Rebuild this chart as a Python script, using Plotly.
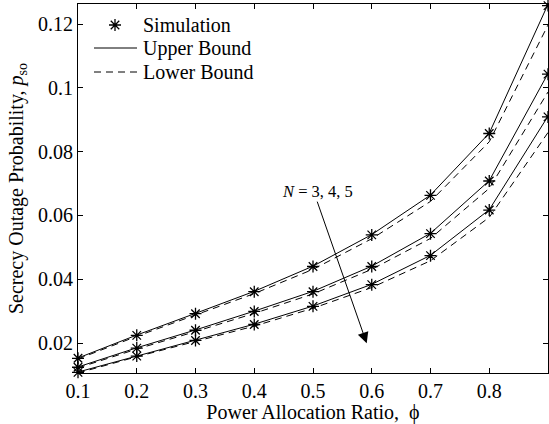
import plotly.graph_objects as go

phi = [0.1, 0.2, 0.3, 0.4, 0.5, 0.6, 0.7, 0.8, 0.9]

sim_N3 = [0.0152, 0.0224, 0.0292, 0.0361, 0.0440, 0.0539, 0.0663, 0.0857, 0.1258]
upper_N3 = [0.0153, 0.0225, 0.0293, 0.0362, 0.0441, 0.0540, 0.0664, 0.0858, 0.1262]
lower_N3 = [0.0150, 0.0221, 0.0288, 0.0355, 0.0431, 0.0527, 0.0644, 0.0831, 0.1197]

sim_N4 = [0.0124, 0.0184, 0.0240, 0.0299, 0.0361, 0.0440, 0.0543, 0.0708, 0.1043]
upper_N4 = [0.0125, 0.0185, 0.0241, 0.0300, 0.0362, 0.0441, 0.0544, 0.0709, 0.1045]
lower_N4 = [0.0122, 0.0181, 0.0236, 0.0293, 0.0354, 0.0431, 0.0528, 0.0685, 0.0987]

sim_N5 = [0.0108, 0.0159, 0.0208, 0.0258, 0.0315, 0.0383, 0.0474, 0.0617, 0.0909]
upper_N5 = [0.0109, 0.0160, 0.0209, 0.0259, 0.0316, 0.0384, 0.0475, 0.0618, 0.0911]
lower_N5 = [0.0106, 0.0157, 0.0205, 0.0253, 0.0309, 0.0374, 0.0458, 0.0594, 0.0860]

x_ticks = [0.1, 0.2, 0.3, 0.4, 0.5, 0.6, 0.7, 0.8]
x_tick_text = ["0.1", "0.2", "0.3", "0.4", "0.5", "0.6", "0.7", "0.8"]
y_ticks = [0.02, 0.04, 0.06, 0.08, 0.1, 0.12]
y_tick_text = ["0.02", "0.04", "0.06", "0.08", "0.1", "0.12"]

legend_labels = ["Simulation", "Upper Bound", "Lower Bound"]

FONT = "Liberation Serif, Times New Roman, serif"
FS = 20

fig = go.Figure()

uppers = [upper_N3, upper_N4, upper_N5]
lowers = [lower_N3, lower_N4, lower_N5]
sims = [sim_N3, sim_N4, sim_N5]

MARKER = dict(symbol="asterisk-open", size=10, color="black",
              line=dict(color="black", width=1.3))

for u in uppers:
    fig.add_trace(go.Scatter(x=phi, y=u, mode="lines", showlegend=False,
                             line=dict(color="black", width=1)))
for l in lowers:
    fig.add_trace(go.Scatter(x=phi, y=l, mode="lines", showlegend=False,
                             line=dict(color="black", width=1, dash="7px,5px")))
for s in sims:
    fig.add_trace(go.Scatter(x=phi, y=s, mode="markers", showlegend=False,
                             marker=MARKER, cliponaxis=False))

# legend glyphs on an overlay axis measured in pixels of the plot area
fig.add_trace(go.Scatter(x=[115], y=[25], mode="markers", marker=MARKER,
                         xaxis="x2", yaxis="y2", showlegend=False, hoverinfo="skip"))
fig.add_trace(go.Scatter(x=[94, 137], y=[48, 48], mode="lines",
                         line=dict(color="black", width=1),
                         xaxis="x2", yaxis="y2", showlegend=False, hoverinfo="skip"))
fig.add_trace(go.Scatter(x=[94, 137], y=[72, 72], mode="lines",
                         line=dict(color="black", width=1, dash="7px,5px"),
                         xaxis="x2", yaxis="y2", showlegend=False, hoverinfo="skip"))
for lab, yy in zip(legend_labels, [25, 48, 72]):
    fig.add_annotation(x=141, y=yy, xref="x2", yref="y2", text=lab, showarrow=False,
                       xanchor="left", yanchor="middle",
                       font=dict(family=FONT, size=FS, color="black"))

fig.add_annotation(x=0.5914, y=0.0199, ax=0.5063, ay=0.0648, xref="x", yref="y",
                   axref="x", ayref="y", text="", showarrow=True, arrowhead=2,
                   arrowsize=2.2, arrowwidth=1, arrowcolor="black")
fig.add_annotation(x=0.507, y=0.0674, xref="x", yref="y", showarrow=False,
                   text="<i>N</i> = 3, 4, 5", font=dict(family=FONT, size=16.5, color="black"))

axis_common = dict(showline=True, linecolor="black", linewidth=1, mirror="ticks",
                   ticks="inside", ticklen=5, tickcolor="black", showgrid=False,
                   zeroline=False, tickfont=dict(family=FONT, size=FS, color="black"))

fig.update_layout(
    xaxis=dict(range=[0.1, 0.9], tickvals=x_ticks, ticktext=x_tick_text,
               title=dict(text="Power Allocation Ratio,  ϕ", standoff=2,
                          font=dict(family=FONT, size=FS, color="black")),
               **axis_common),
    yaxis=dict(range=[0.0106, 0.1263], tickvals=y_ticks, ticktext=y_tick_text,
               title=dict(text="Secrecy Outage Probability, <i>p</i><sub>so</sub>", standoff=9,
                          font=dict(family=FONT, size=FS, color="black")),
               **axis_common),
    xaxis2=dict(range=[78, 548], overlaying="x", visible=False, anchor="y2"),
    yaxis2=dict(range=[373, 4], overlaying="y", visible=False, anchor="x2"),
)

fig.update_layout(width=549, height=424, margin=dict(l=78, r=1, t=4, b=51),
                  paper_bgcolor="white", plot_bgcolor="white",
                  font=dict(family=FONT, size=FS, color="black"))

fig.write_html("out.html")
